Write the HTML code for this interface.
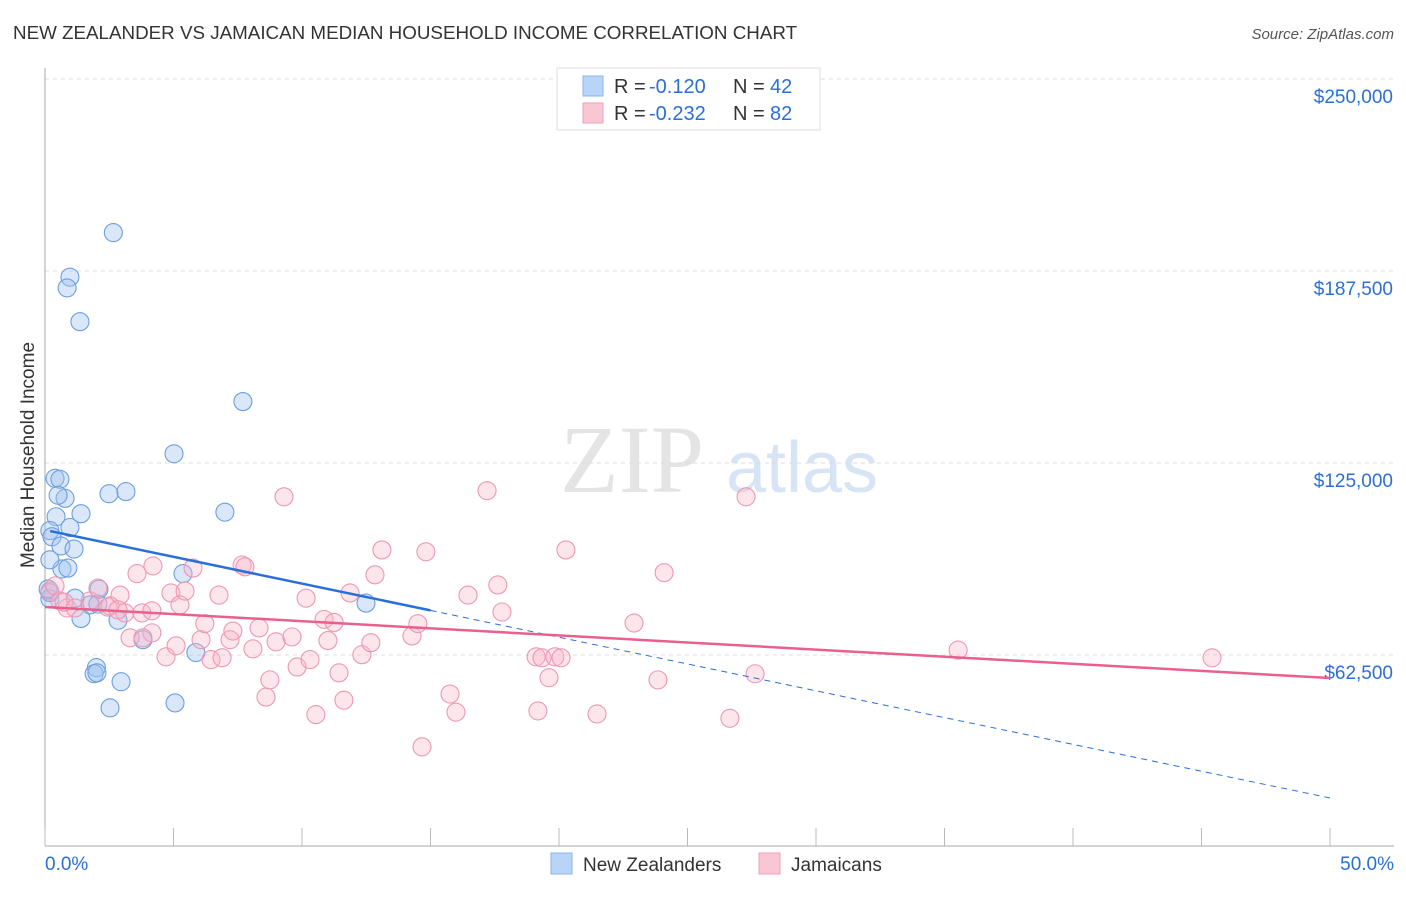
<!DOCTYPE html>
<html><head><meta charset="utf-8"><style>
body{margin:0;background:#fff;font-family:"Liberation Sans",sans-serif;}
#c{position:relative;width:1406px;height:892px;}
</style></head><body>
<div id="c">
<svg id="s" width="1406" height="892" xmlns="http://www.w3.org/2000/svg">
<text x="13" y="39" font-size="18.8" fill="#333">NEW ZEALANDER VS JAMAICAN MEDIAN HOUSEHOLD INCOME CORRELATION CHART</text>
<text x="1394" y="39" font-size="15" fill="#555" text-anchor="end" font-style="italic">Source: ZipAtlas.com</text>
<text x="632" y="492" font-size="96" fill="#e4e4e4" font-family="Liberation Serif,serif" text-anchor="middle">ZIP</text>
<text x="802" y="492" font-size="72" fill="#d6e4f5" text-anchor="middle">atlas</text>
<text transform="translate(34,455) rotate(-90)" font-size="19" fill="#333" text-anchor="middle">Median Household Income</text>
<g id="grid"></g><g id="pts"></g><g id="trend"></g>
<g>
<rect x="557" y="68" width="263" height="62" fill="#fff" stroke="#ddd"/>
<rect x="583" y="76" width="20" height="20" fill="#b8d4f7" stroke="#8ab4ea"/>
<rect x="583" y="103" width="20" height="20" fill="#f9c6d4" stroke="#f0a0b8"/>
<g font-size="20" fill="#333">
<text x="614" y="93">R =</text>
<text x="649" y="93" fill="#2a6fd6">-0.120</text>
<text x="733" y="93">N =</text>
<text x="770" y="93" fill="#2a6fd6">42</text>
<text x="614" y="120">R =</text>
<text x="649" y="120" fill="#2a6fd6">-0.232</text>
<text x="733" y="120">N =</text>
<text x="770" y="120" fill="#2a6fd6">82</text>
</g>
</g>
<g>
<rect x="551" y="853" width="21" height="21" fill="#b8d4f7" stroke="#8ab4ea"/>
<text x="583" y="871" font-size="19" fill="#333">New Zealanders</text>
<rect x="759" y="853" width="21" height="21" fill="#f9c6d4" stroke="#f0a0b8"/>
<text x="791" y="871" font-size="19" fill="#333">Jamaicans</text>
</g>
</svg>
</div>
<script>
const yTicks=[62500,125000,187500,250000];
const yTickLabels=["$62,500","$125,000","$187,500","$250,000"];
const xTickLabels=["0.0%","50.0%"];
const nzX=[2.66,0.97,0.86,1.36,7.70,5.02,0.39,0.58,0.78,0.51,2.49,3.15,0.43,1.40,7.00,0.97,0.19,0.27,0.62,1.13,0.66,0.19,5.37,0.89,2.10,0.19,1.17,1.75,2.06,1.40,2.84,3.81,12.49,5.87,2.00,1.91,2.02,2.96,2.53,5.06,0.19,0.12];
const nzY=[200000,185500,182000,171000,145000,128000,120000,119700,113500,114500,115000,115700,107500,108500,109000,104000,103000,101000,98000,97000,90500,93500,89000,90800,83900,82800,81000,78800,79100,74400,73800,67500,79400,63300,58400,56400,56700,53800,45300,46900,80800,84000];
const jamX=[0.19,0.39,0.58,0.86,0.74,1.75,2.06,2.45,2.92,3.11,3.58,4.20,3.77,3.31,4.16,4.71,5.10,4.90,5.25,5.45,5.76,6.07,6.22,6.46,6.77,6.89,7.20,7.31,7.67,7.78,8.09,8.33,8.60,8.75,8.99,9.30,9.61,9.81,10.16,10.31,10.54,10.86,11.01,11.25,11.44,11.63,11.87,12.33,12.68,12.84,13.11,14.28,14.51,14.67,14.82,15.76,15.99,16.46,17.20,17.62,17.78,19.11,19.18,19.34,19.61,19.84,20.08,20.27,21.48,22.92,23.85,24.09,26.65,27.28,27.63,35.53,45.41,2.53,1.17,4.16,2.84,3.81];
const jamY=[83300,85000,80100,77800,79700,80100,84300,78100,82000,76200,89000,91500,76200,68100,69700,61900,65500,82700,78800,83300,90800,67500,72700,61000,82000,61600,67500,70300,91800,91200,64500,71300,48800,54400,66800,114000,68400,58600,81000,61000,43100,74100,67200,73100,56700,47800,82700,62600,66500,88600,96700,68700,72700,32600,96100,49800,43900,82000,116000,85300,76500,61900,44300,61600,55100,61900,61600,96700,43300,72900,54400,89300,41900,114000,56400,64100,61600,78500,77800,76900,77200,68100];
const nzTrend=[103190,15950];const jamTrend=[78125,55010];
const X=v=>45+v/50*1285, Y=v=>847-v*192/62500;
const NS="http://www.w3.org/2000/svg";
function mk(p,t,a){const e=document.createElementNS(NS,t);for(const k in a)e.setAttribute(k,a[k]);p.appendChild(e);return e;}
const g=document.getElementById('grid');
yTicks.forEach((v,i)=>{const l=mk(g,'line',{x1:45,x2:1394,y1:Y(v),y2:Y(v),stroke:'#ddd','stroke-dasharray':'4,4'});


const t=mk(g,'text',{x:1393,y:Y(v)+24,'font-size':19,fill:'#2a6fd6','text-anchor':'end'});t.textContent=yTickLabels[i];

});
const ax=mk(g,'line',{x1:45,x2:45,y1:68,y2:846,stroke:'#aaa'});


const bx=mk(g,'line',{x1:45,x2:1394,y1:846,y2:846,stroke:'#aaa'});


for(let i=0;i<=10;i++){const tk=mk(g,'line',{x1:X(i*5),x2:X(i*5),y1:828,y2:846,stroke:'#bbb'});

}
[[0,'start',45],[50,'end',1394]].forEach((a,i)=>{const t=mk(g,'text',{x:a[2],y:870,'font-size':19,fill:'#2a6fd6','text-anchor':a[1]});t.textContent=xTickLabels[i];

});
const p=document.getElementById('pts');
nzX.forEach((x,i)=>{const c=mk(p,'circle',{cx:X(x),cy:Y(nzY[i]),r:9,fill:'rgba(160,196,240,0.4)',stroke:'#6b9fe0','stroke-width':1.1});

});
jamX.forEach((x,i)=>{const c=mk(p,'circle',{cx:X(x),cy:Y(jamY[i]),r:9,fill:'rgba(248,180,200,0.35)',stroke:'#ec98b2','stroke-width':1.1});

});
const tr=document.getElementById('trend');
const bAt=x=>nzTrend[0]+(nzTrend[1]-nzTrend[0])*x/50;
const l1=mk(tr,'line',{x1:X(0.2),y1:Y(bAt(0.2)),x2:X(15),y2:Y(bAt(15)),stroke:'#2a6fd6','stroke-width':2.5});


const l2=mk(tr,'line',{x1:X(15),y1:Y(bAt(15)),x2:X(50),y2:Y(bAt(50)),stroke:'#2a6fd6','stroke-width':1,'stroke-dasharray':'6,5'});


const l3=mk(tr,'line',{x1:X(0),y1:Y(jamTrend[0]),x2:X(50),y2:Y(jamTrend[1]),stroke:'#e8608c','stroke-width':2.5});


</script>
</body></html>
